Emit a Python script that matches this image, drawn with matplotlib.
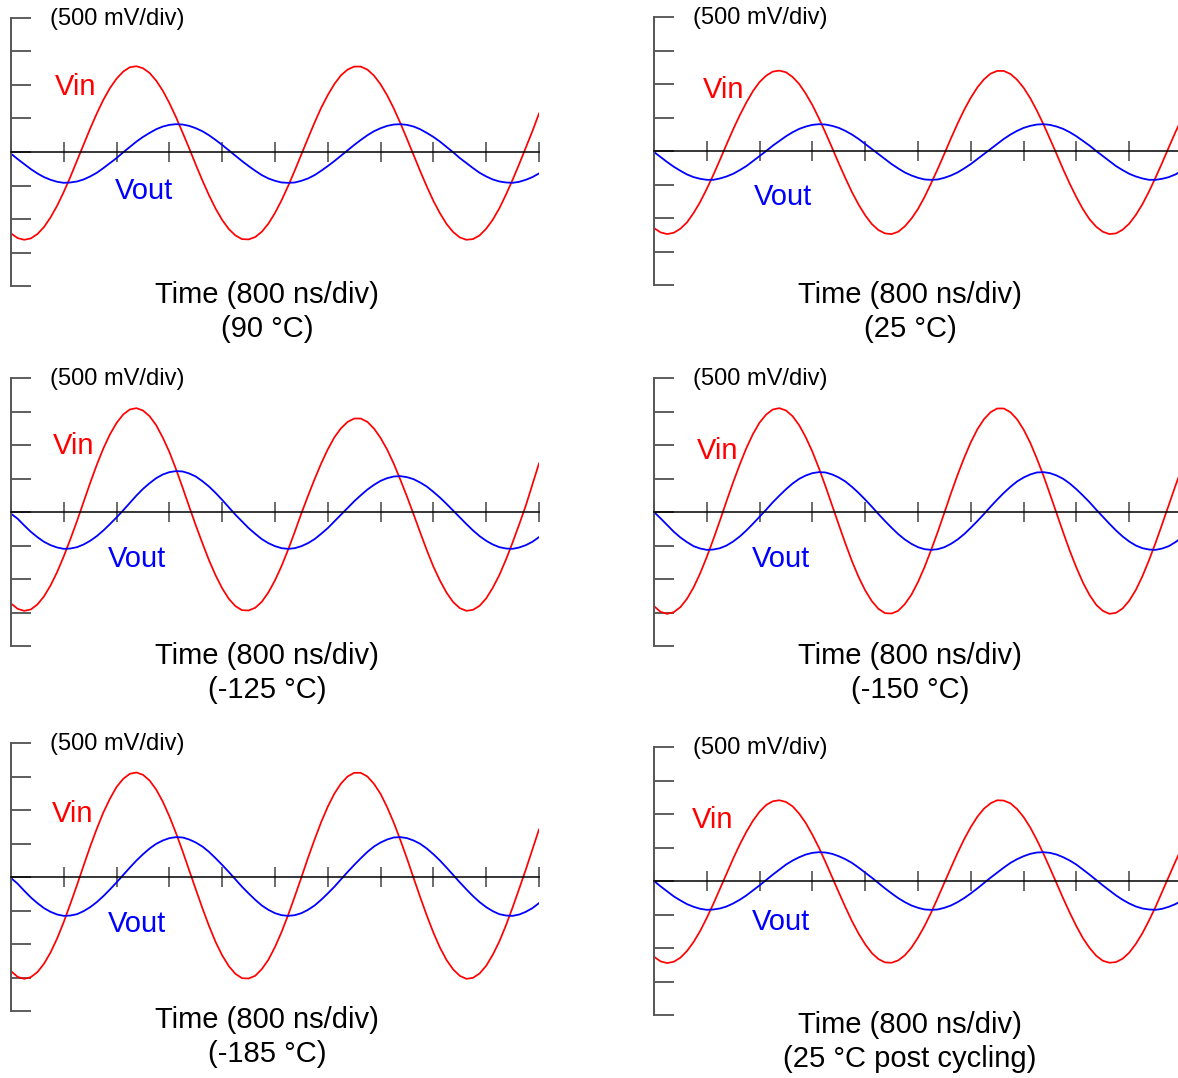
import numpy as np
import matplotlib
matplotlib.use("Agg")
import matplotlib.pyplot as plt

# -----------------------------------
# Data
# x in divisions (800 ns/div), y in divisions (500 mV/div)
# one sample every 1/8 division
# -----------------------------------

t_div = np.arange(81) * 0.125

vin_90 = [-2.43, -2.57, -2.62, -2.58, -2.45, -2.24, -1.95, -1.60, -1.19, -0.74,
          -0.26, 0.22, 0.70, 1.15, 1.56, 1.91, 2.19, 2.40, 2.53, 2.56,
          2.50, 2.36, 2.13, 1.83, 1.46, 1.04, 0.58, 0.11, -0.38, -0.85,
          -1.29, -1.69, -2.03, -2.30, -2.49, -2.60, -2.61, -2.54, -2.38, -2.14,
          -1.82, -1.44, -1.01, -0.55, -0.07, 0.41, 0.88, 1.32, 1.70, 2.03,
          2.29, 2.46, 2.55, 2.55, 2.46, 2.28, 2.02, 1.69, 1.30, 0.86,
          0.39, -0.09, -0.57, -1.03, -1.46, -1.83, -2.15, -2.39, -2.55, -2.62,
          -2.60, -2.49, -2.29, -2.02, -1.68, -1.27, -0.83, -0.36, 0.13, 0.62,
          1.15]
vout_90 = [-0.05, -0.21, -0.36, -0.51, -0.64, -0.75, -0.83, -0.89, -0.92, -0.91,
           -0.88, -0.82, -0.73, -0.62, -0.48, -0.33, -0.18, -0.01, 0.15, 0.31,
           0.45, 0.57, 0.68, 0.76, 0.81, 0.83, 0.82, 0.78, 0.71, 0.62,
           0.50, 0.36, 0.21, 0.05, -0.11, -0.27, -0.42, -0.56, -0.69, -0.79,
           -0.86, -0.91, -0.92, -0.91, -0.86, -0.79, -0.69, -0.56, -0.42, -0.27,
           -0.11, 0.05, 0.21, 0.36, 0.50, 0.62, 0.71, 0.78, 0.82, 0.83,
           0.81, 0.76, 0.68, 0.57, 0.45, 0.31, 0.15, -0.01, -0.18, -0.33,
           -0.48, -0.62, -0.73, -0.82, -0.88, -0.91, -0.92, -0.89, -0.83, -0.75,
           -0.64]

vin_25 = [-2.30, -2.43, -2.48, -2.44, -2.32, -2.13, -1.85, -1.52, -1.13, -0.71,
          -0.26, 0.20, 0.65, 1.07, 1.45, 1.79, 2.06, 2.25, 2.37, 2.40,
          2.35, 2.21, 2.00, 1.71, 1.37, 0.97, 0.54, 0.09, -0.37, -0.81,
          -1.23, -1.60, -1.92, -2.18, -2.36, -2.46, -2.48, -2.41, -2.25, -2.02,
          -1.73, -1.37, -0.96, -0.53, -0.08, 0.38, 0.82, 1.23, 1.59, 1.90,
          2.14, 2.31, 2.39, 2.39, 2.30, 2.13, 1.89, 1.58, 1.21, 0.80,
          0.36, -0.09, -0.55, -0.98, -1.38, -1.74, -2.04, -2.26, -2.41, -2.48,
          -2.46, -2.35, -2.17, -1.91, -1.59, -1.21, -0.79, -0.35, 0.11, 0.56,
          0.98]
vout_25 = [-0.03, -0.18, -0.33, -0.47, -0.59, -0.70, -0.78, -0.83, -0.86, -0.86,
           -0.82, -0.76, -0.68, -0.57, -0.45, -0.30, -0.15, 0.00, 0.16, 0.30,
           0.44, 0.56, 0.66, 0.73, 0.78, 0.80, 0.79, 0.75, 0.69, 0.60,
           0.49, 0.36, 0.21, 0.06, -0.09, -0.24, -0.39, -0.52, -0.64, -0.73,
           -0.80, -0.85, -0.86, -0.85, -0.80, -0.73, -0.64, -0.52, -0.39, -0.24,
           -0.09, 0.06, 0.21, 0.36, 0.49, 0.60, 0.69, 0.75, 0.79, 0.80,
           0.78, 0.73, 0.66, 0.56, 0.44, 0.30, 0.16, 0.00, -0.15, -0.30,
           -0.45, -0.57, -0.68, -0.76, -0.82, -0.86, -0.86, -0.83, -0.78, -0.70,
           -0.59]

vin_m125 = [-2.73, -2.89, -2.95, -2.91, -2.76, -2.52, -2.19, -1.79, -1.32, -0.81,
            -0.27, 0.30, 0.87, 1.41, 1.90, 2.32, 2.66, 2.91, 3.06, 3.10,
            3.03, 2.86, 2.59, 2.22, 1.79, 1.28, 0.73, 0.16, -0.40, -0.93,
            -1.44, -1.89, -2.28, -2.59, -2.81, -2.93, -2.94, -2.86, -2.68, -2.40,
            -2.04, -1.61, -1.12, -0.59, -0.04, 0.48, 0.98, 1.45, 1.87, 2.23,
            2.50, 2.69, 2.79, 2.79, 2.69, 2.49, 2.21, 1.86, 1.44, 0.96,
            0.46, -0.07, -0.61, -1.14, -1.63, -2.05, -2.41, -2.69, -2.87, -2.95,
            -2.92, -2.80, -2.58, -2.26, -1.88, -1.42, -0.91, -0.37, 0.19, 0.82,
            1.45]
vout_m125 = [-0.05, -0.20, -0.40, -0.59, -0.75, -0.89, -0.99, -1.06, -1.10, -1.09,
             -1.05, -0.97, -0.86, -0.72, -0.55, -0.36, -0.16, 0.05, 0.27, 0.49,
             0.69, 0.86, 1.01, 1.12, 1.19, 1.22, 1.21, 1.15, 1.06, 0.92,
             0.76, 0.57, 0.36, 0.14, -0.08, -0.28, -0.48, -0.65, -0.81, -0.93,
             -1.02, -1.08, -1.10, -1.08, -1.02, -0.93, -0.81, -0.65, -0.48, -0.28,
             -0.08, 0.12, 0.32, 0.50, 0.67, 0.81, 0.93, 1.01, 1.06, 1.07,
             1.04, 0.98, 0.88, 0.76, 0.60, 0.43, 0.24, 0.04, -0.16, -0.36,
             -0.55, -0.72, -0.86, -0.97, -1.05, -1.09, -1.10, -1.06, -0.99, -0.89,
             -0.75]

vin_m150 = [-2.81, -2.98, -3.04, -2.99, -2.84, -2.59, -2.25, -1.83, -1.34, -0.81,
            -0.25, 0.33, 0.89, 1.42, 1.91, 2.33, 2.67, 2.91, 3.06, 3.10,
            3.03, 2.86, 2.59, 2.23, 1.80, 1.30, 0.76, 0.19, -0.38, -0.94,
            -1.47, -1.94, -2.34, -2.66, -2.89, -3.02, -3.03, -2.95, -2.75, -2.47,
            -2.09, -1.64, -1.13, -0.59, -0.02, 0.56, 1.11, 1.62, 2.08, 2.47,
            2.77, 2.98, 3.09, 3.09, 2.98, 2.77, 2.46, 2.07, 1.60, 1.09,
            0.53, -0.04, -0.61, -1.16, -1.66, -2.11, -2.48, -2.77, -2.95, -3.04,
            -3.01, -2.88, -2.65, -2.33, -1.92, -1.44, -0.92, -0.36, 0.21, 0.78,
            1.32]
vout_m150 = [0.00, -0.19, -0.39, -0.59, -0.76, -0.90, -1.02, -1.09, -1.13, -1.12,
             -1.08, -1.00, -0.88, -0.73, -0.55, -0.35, -0.14, 0.07, 0.29, 0.49,
             0.68, 0.85, 0.99, 1.09, 1.16, 1.19, 1.18, 1.12, 1.03, 0.91,
             0.75, 0.57, 0.37, 0.16, -0.06, -0.27, -0.47, -0.66, -0.82, -0.95,
             -1.05, -1.11, -1.13, -1.11, -1.05, -0.95, -0.82, -0.66, -0.47, -0.27,
             -0.06, 0.16, 0.37, 0.57, 0.75, 0.91, 1.03, 1.12, 1.18, 1.19,
             1.16, 1.09, 0.99, 0.85, 0.68, 0.49, 0.29, 0.07, -0.14, -0.35,
             -0.55, -0.73, -0.88, -1.00, -1.08, -1.12, -1.13, -1.09, -1.02, -0.90,
             -0.76]

vin_m185 = [-2.81, -2.98, -3.04, -2.99, -2.84, -2.59, -2.25, -1.83, -1.34, -0.80,
            -0.24, 0.34, 0.91, 1.44, 1.93, 2.34, 2.69, 2.93, 3.08, 3.12,
            3.05, 2.88, 2.61, 2.25, 1.81, 1.31, 0.77, 0.20, -0.37, -0.93,
            -1.46, -1.94, -2.34, -2.66, -2.89, -3.02, -3.03, -2.95, -2.75, -2.47,
            -2.09, -1.64, -1.13, -0.58, -0.01, 0.57, 1.12, 1.64, 2.10, 2.49,
            2.79, 3.00, 3.11, 3.11, 3.00, 2.78, 2.48, 2.08, 1.62, 1.10,
            0.55, -0.03, -0.60, -1.15, -1.66, -2.11, -2.48, -2.76, -2.95, -3.04,
            -3.01, -2.88, -2.65, -2.32, -1.92, -1.44, -0.91, -0.35, 0.22, 0.82,
            1.42]
vout_m185 = [-0.03, -0.20, -0.41, -0.61, -0.78, -0.93, -1.04, -1.12, -1.16, -1.15,
             -1.11, -1.02, -0.90, -0.75, -0.57, -0.37, -0.16, 0.06, 0.28, 0.49,
             0.68, 0.85, 0.99, 1.09, 1.16, 1.19, 1.18, 1.12, 1.03, 0.91,
             0.75, 0.56, 0.36, 0.15, -0.07, -0.29, -0.49, -0.68, -0.85, -0.98,
             -1.08, -1.14, -1.16, -1.14, -1.08, -0.98, -0.85, -0.68, -0.49, -0.29,
             -0.07, 0.15, 0.36, 0.56, 0.75, 0.91, 1.03, 1.12, 1.18, 1.19,
             1.16, 1.09, 0.99, 0.85, 0.68, 0.49, 0.28, 0.06, -0.16, -0.37,
             -0.57, -0.75, -0.90, -1.02, -1.11, -1.15, -1.16, -1.12, -1.04, -0.93,
             -0.78]

vin_post = [-2.26, -2.40, -2.45, -2.41, -2.29, -2.09, -1.82, -1.49, -1.10, -0.68,
            -0.23, 0.22, 0.67, 1.09, 1.47, 1.80, 2.07, 2.27, 2.38, 2.41,
            2.36, 2.23, 2.01, 1.73, 1.38, 0.99, 0.56, 0.11, -0.34, -0.78,
            -1.20, -1.57, -1.89, -2.15, -2.33, -2.43, -2.44, -2.37, -2.22, -1.99,
            -1.69, -1.34, -0.94, -0.50, -0.05, 0.40, 0.84, 1.25, 1.61, 1.92,
            2.16, 2.32, 2.41, 2.40, 2.32, 2.15, 1.91, 1.60, 1.23, 0.82,
            0.38, -0.07, -0.52, -0.95, -1.35, -1.71, -2.00, -2.23, -2.38, -2.44,
            -2.42, -2.32, -2.14, -1.88, -1.56, -1.18, -0.77, -0.32, 0.13, 0.58,
            1.01]
vout_post = [0.00, -0.16, -0.31, -0.46, -0.58, -0.69, -0.77, -0.83, -0.86, -0.85,
             -0.82, -0.76, -0.67, -0.56, -0.43, -0.28, -0.13, 0.03, 0.19, 0.34,
             0.49, 0.61, 0.71, 0.79, 0.84, 0.86, 0.85, 0.81, 0.74, 0.65,
             0.54, 0.40, 0.25, 0.10, -0.06, -0.22, -0.37, -0.51, -0.63, -0.73,
             -0.80, -0.85, -0.86, -0.85, -0.80, -0.73, -0.63, -0.51, -0.37, -0.22,
             -0.06, 0.10, 0.25, 0.40, 0.54, 0.65, 0.74, 0.81, 0.85, 0.86,
             0.84, 0.79, 0.71, 0.61, 0.49, 0.34, 0.19, 0.03, -0.13, -0.28,
             -0.43, -0.56, -0.67, -0.76, -0.82, -0.85, -0.86, -0.83, -0.77, -0.69,
             -0.58]

temps = ["(90 \u00b0C)", "(25 \u00b0C)", "(-125 \u00b0C)",
         "(-150 \u00b0C)", "(-185 \u00b0C)", "(25 \u00b0C post cycling)"]
vins = [vin_90, vin_25, vin_m125, vin_m150, vin_m185, vin_post]
vouts = [vout_90, vout_25, vout_m125, vout_m150, vout_m185, vout_post]

# -----------------------------------
# Layout (pixels in a 1178 x 1078 canvas)
# -----------------------------------

W, H = 1178, 1078
PW, PH = 528, 268

# axis origin x, top y, Vin label (x, y), Vout label (x, y), caption y
panels = [
    (11, 18, (55, 87), (115, 191), 295),
    (654, 17, (703, 90), (754, 197), 295),
    (11, 378, (53, 446), (108, 559), 656),
    (654, 378, (697, 451), (752, 559), 656),
    (11, 743, (52, 814), (108, 924), 1020),
    (654, 747, (692, 820), (752, 922), 1025),
]

plt.rcParams["font.family"] = ["Liberation Sans", "DejaVu Sans"]

fig = plt.figure(figsize=(W / 100, H / 100), dpi=100)


def fx(px):
    return px / W


def fy(py):
    return 1 - py / H


for i, (x0, top, vin_xy, vout_xy, cap_y) in enumerate(panels):
    ax = fig.add_axes([fx(x0), fy(top + PH), PW / W, PH / H])
    ax.set_xlim(0, 10)
    ax.set_ylim(-4, 4)
    ax.patch.set_alpha(0)

    ax.plot(t_div, vins[i], color="#ff0000", lw=1.25)
    ax.plot(t_div, vouts[i], color="#0000ff", lw=1.3)

    for s in ["top", "right"]:
        ax.spines[s].set_visible(False)
    ax.spines["left"].set_color("#555555")
    ax.spines["left"].set_linewidth(1.4)
    ax.spines["bottom"].set_position(("data", 0))
    ax.spines["bottom"].set_color("black")
    ax.spines["bottom"].set_linewidth(1.1)

    ax.set_yticks(np.arange(-4, 5))
    ax.set_xticks(np.arange(0, 11))
    ax.tick_params(axis="y", direction="in", length=14.4, width=1.1,
                   color="#333333", labelleft=False)
    ax.tick_params(axis="x", direction="inout", length=14.4, width=1.1,
                   color="#444444", labelbottom=False)

    # text
    fig.text(fx(x0 + 39), fy(top + 1), "(500 mV/div)", fontsize=17,
             ha="left", va="center")
    fig.text(fx(vin_xy[0]), fy(vin_xy[1]), "Vin", color="#ff0000",
             fontsize=21, ha="left", va="center")
    fig.text(fx(vout_xy[0]), fy(vout_xy[1]), "Vout", color="#0000ff",
             fontsize=21, ha="left", va="center")
    fig.text(fx(x0 + 256), fy(cap_y), "Time (800 ns/div)", fontsize=21,
             ha="center", va="center")
    fig.text(fx(x0 + 256), fy(cap_y + 34), temps[i], fontsize=21,
             ha="center", va="center")

fig.savefig("out.png", dpi=100)
